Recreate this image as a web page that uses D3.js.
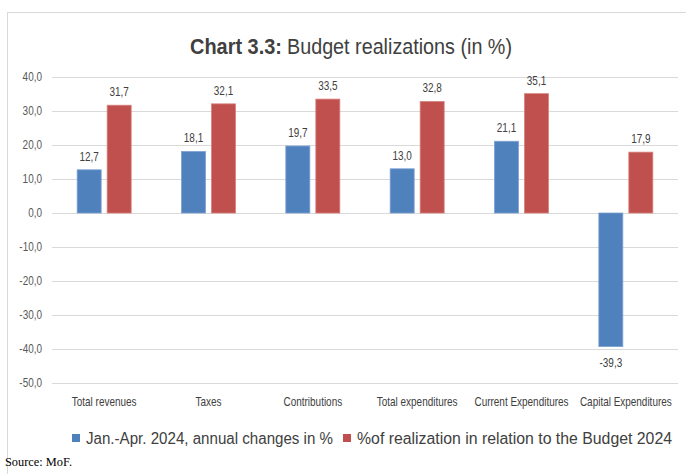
<!DOCTYPE html>
<html>
<head>
<meta charset="utf-8">
<script src="https://cdn.jsdelivr.net/npm/d3@7"></script>
<style>
  body { margin: 0; background: #fff; }
  svg { display: block; }
</style>
</head>
<body>
<svg id="chart" width="686" height="474"></svg>
<script>
var categories = ['Total revenues', 'Taxes', 'Contributions', 'Total expenditures', 'Current Expenditures', 'Capital Expenditures'];
var annualChange = [12.7, 18.1, 19.7, 13.0, 21.1, -39.3];
var realization = [31.7, 32.1, 33.5, 32.8, 35.1, 17.9];
var seriesNames = ['Jan.-Apr. 2024, annual changes in %', '%of realization in relation to the Budget 2024'];
var yTicks = [40, 30, 20, 10, 0, -10, -20, -30, -40, -50];

var colors = ['#4f81bd', '#c0504d'];
var font = '"Liberation Sans", Arial, sans-serif';
var squeeze = 0.83; // the original uses a condensed face

var margin = {top: 77, right: 8, bottom: 91, left: 52};
var width = 686 - margin.left - margin.right;
var height = 474 - margin.top - margin.bottom;

var svg = d3.select('#chart');

// outer frame
svg.append('rect')
    .attr('x', 7.5).attr('y', 12.5)
    .attr('width', 700).attr('height', 500)
    .attr('fill', 'none')
    .attr('stroke', '#d9d9d9');

// title, bold part and regular part
svg.append('text')
    .attr('x', 190).attr('y', 54)
    .attr('font-family', font)
    .attr('font-size', 22)
    .attr('font-weight', 'bold')
    .attr('fill', '#404040')
    .attr('textLength', 92)
    .attr('lengthAdjust', 'spacingAndGlyphs')
    .text('Chart 3.3:');
svg.append('text')
    .attr('x', 287).attr('y', 54)
    .attr('font-family', font)
    .attr('font-size', 22)
    .attr('fill', '#404040')
    .attr('textLength', 225)
    .attr('lengthAdjust', 'spacingAndGlyphs')
    .text('Budget realizations (in %)');

var g = svg.append('g')
    .attr('transform', 'translate(' + margin.left + ',' + margin.top + ')');

var x0 = d3.scaleBand().domain(categories).range([0, width]);
var y = d3.scaleLinear().domain([-50, 40]).range([height, 0]);

var fmt = function(v) { return d3.format('.1f')(v).replace('.', ',').replace('−', '-'); };

// condensed text helper
function narrowText(sel, px, py, anchor) {
    return sel.append('text')
        .attr('transform', 'translate(' + px + ',' + py + ') scale(' + squeeze + ',1)')
        .attr('text-anchor', anchor)
        .attr('font-family', font)
        .attr('font-size', 12)
        .attr('fill', '#404040');
}

// gridlines
g.append('g').selectAll('line')
    .data(yTicks)
    .enter().append('line')
    .attr('x1', 0).attr('x2', width)
    .attr('y1', function(d) { return Math.round(y(d)) + 0.5; })
    .attr('y2', function(d) { return Math.round(y(d)) + 0.5; })
    .attr('stroke', '#d9d9d9')
    .attr('stroke-width', 1);

// y tick labels
var yLab = g.append('g');
yTicks.forEach(function(t) {
    narrowText(yLab, -10, y(t) + 4, 'end').attr('fill', '#595959').text(fmt(t));
});

// bars
var barW = 24, gap = 6;
var series = [annualChange, realization];
series.forEach(function(vals, si) {
    var off = si === 0 ? -gap / 2 - barW : gap / 2;
    var sg = g.append('g');
    sg.selectAll('rect')
        .data(vals)
        .enter().append('rect')
        .attr('x', function(d, i) { return x0(categories[i]) + x0.bandwidth() / 2 + off; })
        .attr('y', function(d) { return y(Math.max(0, d)); })
        .attr('width', barW)
        .attr('height', function(d) { return Math.abs(y(d) - y(0)); })
        .attr('fill', colors[si])
        .attr('stroke', si === 0 ? '#7ea1d3' : '#d9817e')
        .attr('stroke-width', 0.8);
    vals.forEach(function(d, i) {
        var cx = x0(categories[i]) + x0.bandwidth() / 2 + off + barW / 2;
        var cy = d >= 0 ? y(d) - 9 : y(d) + 20;
        narrowText(sg, cx, cy, 'middle').text(fmt(d));
    });
});

// category labels
var cat = g.append('g');
categories.forEach(function(c) {
    narrowText(cat, x0(c) + x0.bandwidth() / 2, height + 23, 'middle').text(c);
});

// legend
var legend = [
    {x: 72, tx: 86, len: 247},
    {x: 343, tx: 357, len: 315}
];
legend.forEach(function(l, i) {
    svg.append('rect')
        .attr('x', l.x).attr('y', 434)
        .attr('width', 8).attr('height', 8)
        .attr('fill', colors[i]);
    svg.append('text')
        .attr('x', l.tx).attr('y', 444)
        .attr('font-family', font)
        .attr('font-size', 16)
        .attr('fill', '#404040')
        .attr('textLength', l.len)
        .attr('lengthAdjust', 'spacingAndGlyphs')
        .text(seriesNames[i]);
});

// source
svg.append('text')
    .attr('x', 5).attr('y', 466)
    .attr('font-family', '"Liberation Serif", "Times New Roman", serif')
    .attr('font-size', 12)
    .attr('fill', '#000')
    .attr('textLength', 67)
    .attr('lengthAdjust', 'spacingAndGlyphs')
    .text('Source: MoF.');
</script>
</body>
</html>
